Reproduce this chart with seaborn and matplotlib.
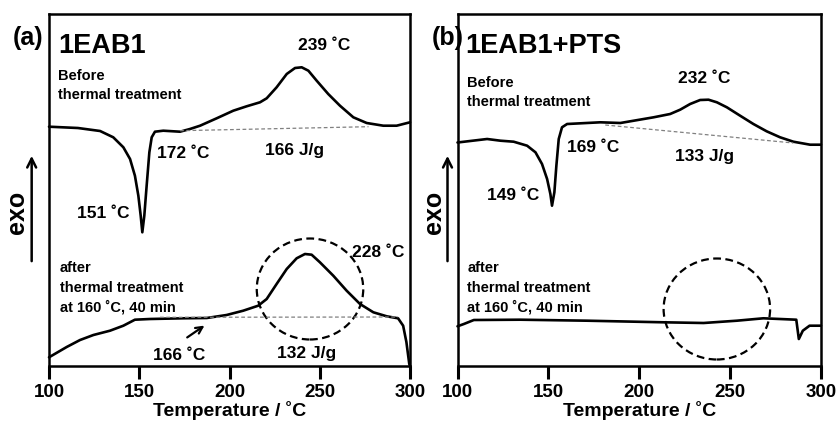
import matplotlib
matplotlib.use("Agg")
import matplotlib.pyplot as plt
from matplotlib.patches import Ellipse
import seaborn as sns

# DSC traces (temperature in C, heat flow in arbitrary units)
t_a_before = [100, 116, 128.3, 135.6, 141.2, 144.9, 147.6, 149.5, 150.8, 151.7, 152.8, 154.1,
              155.6, 156.9, 158.7, 163.3, 172.6, 178.1, 183.7, 192.9, 202.1, 209.5, 216.9,
              220.6, 226.1, 231.7, 236.3, 240.0, 243.7, 248.3, 254.7, 261.2, 268.6, 276.0,
              285.2, 292.6, 300]
hf_a_before = [239.3, 238, 235, 228.7, 218.7, 207, 190.3, 170.3, 150.3, 133.7, 150.3, 180.3,
               213.7, 228.7, 234.3, 235.3, 234.3, 237, 240.3, 247.7, 255.3, 259.7, 263.7,
               267.7, 278.7, 292, 298, 298.7, 295.3, 285.3, 272, 260.3, 248.7, 243,
               240.3, 240.3, 243.7]

t_a_after = [100, 109.8, 117.2, 124.6, 133.8, 141.2, 147.6, 156, 174.4, 187.4, 198.4, 207.6,
             215.9, 220.6, 226.1, 231.7, 237.2, 241.8, 245.5, 250.1, 257.5, 264.9, 272.3,
             279.7, 287.1, 293.4, 296.2, 298, 299.6, 300]
hf_a_after = [8.7, 19, 26, 31, 35.3, 40.3, 46.3, 47, 47.7, 48, 51, 55.3,
              60.3, 67, 82, 97, 107.7, 112, 111.3, 103.7, 90.3, 75.3, 62,
              53.7, 49.7, 47.7, 40.3, 24, 2, 0]

t_b_before = [100, 116.3, 123.6, 130.9, 138.3, 142.9, 146.5, 149.3, 151.1, 152, 153.3, 154.4,
              155.7, 157.5, 160.3, 178.6, 189.6, 207.9, 217, 222.5, 228, 233.5, 238.1, 242.7,
              248.2, 255.5, 262.8, 270.1, 277.5, 284.8, 294, 300]
hf_b_before = [223.5, 227, 225.3, 224.3, 220.3, 213.7, 202, 187, 172, 160.3, 173.7, 200.3,
               227, 238.7, 242, 243.7, 243, 248.7, 252, 256.3, 262, 266, 266.3, 263.7,
               258.7, 250.3, 242, 234.7, 228.7, 224.3, 221.3, 221.3]

t_b_after = [100, 103.5, 109, 134.6, 171.3, 213.4, 235.4, 253.7, 268.3, 286.4, 287.8, 290,
             293.7, 300]
hf_b_after = [39.7, 42, 46, 46.3, 45.3, 43.7, 43, 45.3, 47.7, 46.3, 27, 35.3,
              40.3, 40.3]

# integration baselines (start/end)
base_a_before = ([172.6, 277], [235.3, 239.3])
base_a_after = ([161.5, 293.4], [48.7, 49])
base_b_before = ([181.3, 284.8], [241, 223])

# dashed circles: centre T, centre hf
circle_a = (244.6, 77)
circle_b = (242.7, 57)

x_ticks = [100, 150, 200, 250, 300]
before_lines = ["Before", "thermal treatment"]
after_lines = ["after", "thermal treatment", "at 160 ˚C, 40 min"]

sns.set_style("ticks")
plt.rcParams['font.family'] = ['Liberation Sans', 'DejaVu Sans']
plt.rcParams['font.weight'] = 'bold'
plt.rcParams['axes.labelweight'] = 'bold'
plt.rcParams['text.color'] = 'black'
plt.rcParams['axes.labelcolor'] = 'black'
plt.rcParams['xtick.color'] = 'black'
plt.rcParams['xtick.labelcolor'] = 'black'

fig = plt.figure(figsize=(8.38, 4.27), dpi=100)
W, H = 838, 427
ax_a = fig.add_axes([49 / W, 1 - 367 / H, 361 / W, 352 / H])
ax_b = fig.add_axes([457.5 / W, 1 - 367 / H, 363.5 / W, 352 / H])


def style_axes(ax):
    ax.set_xlim(100, 300)
    ax.set_ylim(0, 352)
    ax.set_xticks(x_ticks)
    ax.set_yticks([])
    ax.tick_params(axis='x', direction='out', length=9.5, width=2.2, pad=2.5,
                   labelsize=13.5, color='black', labelcolor='black')
    for lab in ax.get_xticklabels():
        lab.set_fontweight('bold')
    for s in ax.spines.values():
        s.set_visible(True)
        s.set_linewidth(1.8)
        s.set_color('black')
    ax.set_xlabel("Temperature / ˚C", fontsize=14, fontweight='bold', labelpad=0, color='black')
    ax.set_ylabel("")


def draw_curve(ax, t, hf):
    sns.lineplot(x=t, y=hf, ax=ax, color='black', linewidth=1.9, estimator=None,
                 sort=False, clip_on=False)


def draw_base(ax, base):
    ax.plot(base[0], base[1], color='#808080', linewidth=0.9, linestyle=(0, (3, 2)))


def draw_block(ax, x, y0, lines, step=14):
    # one text per line, first baseline at y0, going down by step
    for i, s in enumerate(lines):
        ax.text(x, y0 - i * step, s, fontsize=10.5, fontweight='bold', ha='left',
                va='baseline', color='black')


def draw_exo(ax, xt, xa):
    ax.text(xt, 0.44, "exo", transform=ax.transAxes, rotation=90, fontsize=18,
            fontweight='bold', ha='center', va='center', color='black')
    ax.annotate('', xy=(xa, 0.605), xytext=(xa, 0.29), xycoords='axes fraction',
                annotation_clip=False,
                arrowprops=dict(arrowstyle='->', lw=1.8, color='black', mutation_scale=16))


tk = dict(fontsize=12.5, fontweight='bold', ha='left', va='baseline', color='black')

# panel (a)
draw_curve(ax_a, t_a_before, hf_a_before)
draw_curve(ax_a, t_a_after, hf_a_after)
draw_base(ax_a, base_a_before)
draw_base(ax_a, base_a_after)
ax_a.add_patch(Ellipse(circle_a, 59, 101, fill=False, edgecolor='black', linewidth=1.6,
                       linestyle=(0, (3.5, 2))))
ax_a.text(105, 314, "1EAB1", fontsize=19.5, fontweight='bold', ha='left', va='baseline',
          color='black')
ax_a.text(238, 317, "239 ˚C", **tk)
draw_block(ax_a, 105, 287, before_lines, step=19.5)
ax_a.text(159.8, 209, "172 ˚C", **tk)
ax_a.text(219.7, 212, "166 J/g", **tk)
ax_a.text(115.5, 149, "151 ˚C", **tk)
ax_a.text(267.9, 110, "228 ˚C", **tk)
draw_block(ax_a, 106, 94.5, after_lines, step=19.5)
ax_a.text(157.6, 7, "166 ˚C", **tk)
ax_a.text(226.3, 8.7, "132 J/g", **tk)
ax_a.annotate('', xy=(187.4, 42), xytext=(175.3, 27),
              arrowprops=dict(arrowstyle='->', lw=1.6, color='black', mutation_scale=12))
style_axes(ax_a)
draw_exo(ax_a, -0.09, -0.048)

# panel (b)
draw_curve(ax_b, t_b_before, hf_b_before)
draw_curve(ax_b, t_b_after, hf_b_after)
draw_base(ax_b, base_b_before)
ax_b.add_patch(Ellipse(circle_b, 58.6, 101, fill=False, edgecolor='black', linewidth=1.6,
                       linestyle=(0, (3.5, 2))))
ax_b.text(104.4, 314, "1EAB1+PTS", fontsize=19.5, fontweight='bold', ha='left', va='baseline',
          color='black')
ax_b.text(221.4, 284, "232 ˚C", **tk)
draw_block(ax_b, 105.5, 279.5, before_lines, step=19)
ax_b.text(160.4, 215, "169 ˚C", **tk)
ax_b.text(219.8, 206, "133 J/g", **tk)
ax_b.text(116.5, 167, "149 ˚C", **tk)
draw_block(ax_b, 105.5, 94.5, after_lines, step=19.5)
style_axes(ax_b)
draw_exo(ax_b, -0.066, -0.0275)

fig.text(13 / W, 1 - 45 / H, "(a)", fontsize=18, fontweight='bold', ha='left', va='baseline')
fig.text(432 / W, 1 - 45 / H, "(b)", fontsize=18, fontweight='bold', ha='left', va='baseline')

fig.savefig("out.png", dpi=100)
